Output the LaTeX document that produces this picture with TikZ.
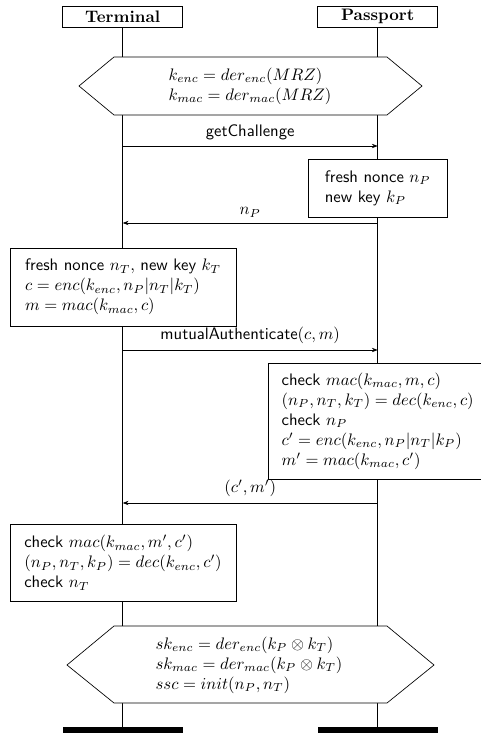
\documentclass[tikz,border=0pt]{standalone}
\usetikzlibrary{arrows.meta}
\begin{document}
\begin{tikzpicture}[x=0.6pt,y=-0.6pt,
  every node/.style={font=\sffamily},
  actor/.style={draw, fill=white, minimum width=72pt, minimum height=12.6pt, inner sep=0pt, font=\rmfamily\bfseries},
  endbar/.style={fill=black, inner sep=0pt, minimum width=72pt, minimum height=3.4pt},
  msg/.style={-{Stealth[length=3.5pt,width=2.6pt]}},
  act/.style={draw, fill=white, align=left, inner xsep=0pt, inner ysep=0pt},
  hexa/.style={draw, fill=white},
  hexatext/.style={align=left, inner sep=0pt}]
\useasboundingbox (0,0) rectangle (480,734);

% actors and end bars
\node[actor] (T) at (122.7,16.5) {Terminal};
\node[actor] (P) at (377.7,16.5) {Passport};
\node[endbar] (Tb) at (122.7,729.7) {};
\node[endbar] (Pb) at (377.7,729.7) {};

% lifelines
\draw (T.south) -- (Tb.north);
\draw (P.south) -- (Pb.north);

% first hexagon
\draw[hexa] (79,86) -- (114,57) -- (387,57) -- (422,86) -- (387,115) -- (114,115) -- cycle;
\node[hexatext] (h1) at (250,86) {$k_{enc} = der_{enc}(MRZ)$\\ $k_{mac} = der_{mac}(MRZ)$};

% getChallenge
\coordinate (m1T) at (122.7,146);
\coordinate (m1P) at (377.7,146);
\draw[msg] (m1T) -- node[above] {getChallenge} (m1P);

% passport box 1
\node[act, minimum width=83.4pt, minimum height=34.8pt] (p1) at (377.7,188)
  {fresh nonce $n_P$\\ new key $k_P$};

% n_P
\coordinate (m2T) at (122.7,223);
\coordinate (m2P) at (377.7,223);
\draw[msg] (m2P) -- node[above] {$n_P$} (m2T);

% terminal box 1
\node[act, minimum width=135.6pt, minimum height=46.8pt] (t1) at (123,287)
  {fresh nonce $n_T,$ new key $k_T$\\ $c = enc(k_{enc}, n_P|n_T|k_T)$\\ $m = mac(k_{mac}, c)$};

% mutualAuthenticate
\coordinate (m3T) at (122.7,350);
\coordinate (m3P) at (377.7,350);
\draw[msg] (m3T) -- node[above] {mutualAuthenticate$(c,m)$} (m3P);

% passport box 2
\node[act, minimum width=131.4pt, minimum height=69.6pt] (p2) at (377.7,421)
  {check $mac(k_{mac}, m, c)$\\ $(n_P, n_T, k_T) = dec(k_{enc}, c)$\\ check $n_P$\\ $c' = enc(k_{enc}, n_P|n_T|k_P)$\\ $m' = mac(k_{mac}, c')$};

% (c',m')
\coordinate (m4T) at (122.7,503);
\coordinate (m4P) at (377.7,503);
\draw[msg] (m4P) -- node[above] {$(c', m')$} (m4T);

% terminal box 2
\node[act, minimum width=135.6pt, minimum height=46.2pt] (t2) at (123,562.5)
  {check $mac(k_{mac}, m', c')$\\ $(n_P, n_T, k_P) = dec(k_{enc}, c')$\\ check $n_T$};

% second hexagon
\draw[hexa] (67,665) -- (114,626) -- (387,626) -- (434,665) -- (387,703) -- (114,703) -- cycle;
\node[hexatext] (h2) at (249,665) {$sk_{enc} = der_{enc}(k_P \otimes k_T)$\\ $sk_{mac} = der_{mac}(k_P \otimes k_T)$\\ $ssc = init(n_P, n_T)$};
\end{tikzpicture}
\end{document}
